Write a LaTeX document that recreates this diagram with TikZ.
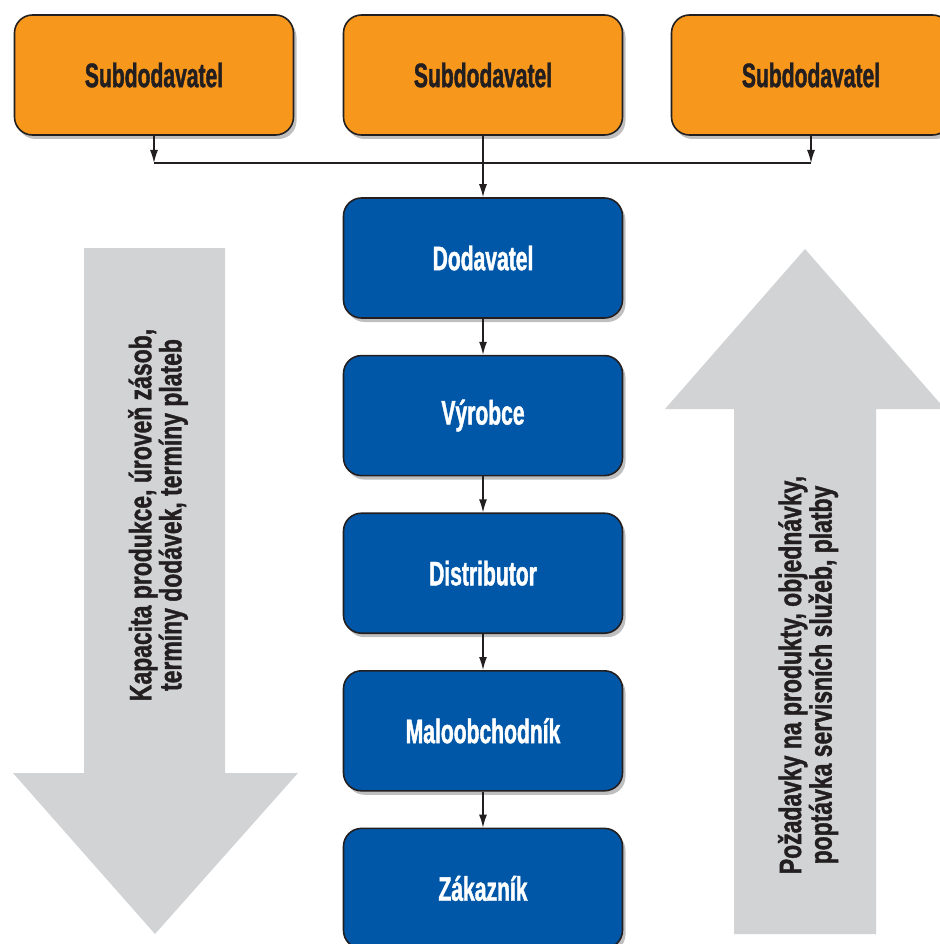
\documentclass[tikz,border=0pt]{standalone}
\usepackage{fontspec}
\newfontfamily\labelfont{Liberation Sans}[FakeStretch=0.62,FakeBold=1.2]
\newfontfamily\flowfont{Liberation Sans}[FakeStretch=0.74,FakeBold=1.2]
\usepackage{tikz}
\usetikzlibrary{positioning,shadows,arrows.meta}

\definecolor{suborange}{HTML}{F7981D}
\definecolor{chainblue}{HTML}{0057A8}
\definecolor{flowgray}{HTML}{D1D3D4}
\definecolor{inkdark}{HTML}{231F20}

\tikzset{
    box/.style={draw=inkdark, line width=1.6pt, rounded corners=18pt,
        minimum width=279pt, minimum height=120pt, inner sep=0pt,
        font=\labelfont\bfseries\fontsize{34}{38}\selectfont,
        drop shadow={shadow xshift=3pt, shadow yshift=-4pt, opacity=0.5}},
    subbox/.style={box, fill=suborange, text=inkdark},
    chainbox/.style={box, fill=chainblue, text=white},
    link/.style={draw=inkdark, line width=1.3pt, -{Latex[length=13pt,width=8pt]}},
    flowtext/.style={rotate=90, align=center, text=inkdark,
        font=\flowfont\bfseries\fontsize{31}{27}\selectfont}
}

\begin{document}
\begin{tikzpicture}[x=1pt,y=-1pt]

    \useasboundingbox (0,0) rectangle (939,944);

    % big gray arrows
    \fill[flowgray] (84,248) -- (225,248) -- (225,773) -- (298,773) -- (155,934)
        -- (13,773) -- (84,773) -- cycle;
    \fill[flowgray] (734,934) -- (876,934) -- (876,409) -- (945,409) -- (805,249)
        -- (665,409) -- (734,409) -- cycle;

    \node[flowtext] (down) at (158,515)
        {Kapacita produkce, úroveň zásob,\\ termíny dodávek, termíny plateb};
    \node[flowtext] (up) at (808,675)
        {Požadavky na produkty, objednávky,\\ poptávka servisních služeb, platby};

    % suppliers
    \node[subbox] (sub1) at (154,75) {Subdodavatel};
    \node[subbox] (sub2) at (483,75) {Subdodavatel};
    \node[subbox] (sub3) at (811,75) {Subdodavatel};

    % chain
    \node[chainbox] (dod) at (483,258) {Dodavatel};
    \node[chainbox, below=36pt of dod] (vyr) {Výrobce};
    \node[chainbox, below=36pt of vyr] (dis) {Distributor};
    \node[chainbox, below=36pt of dis] (mal) {Maloobchodník};
    \node[chainbox, below=36pt of mal] (zak) {Zákazník};

    \coordinate (bus1) at (154,163);
    \coordinate (bus3) at (811,163);

    \draw[link] (sub1) -- (bus1);
    \draw[link] (sub3) -- (bus3);
    \draw[draw=inkdark, line width=1.3pt] (bus1) -- (bus3);
    \draw[link] (sub2) -- (dod);
    \draw[link] (dod) -- (vyr);
    \draw[link] (vyr) -- (dis);
    \draw[link] (dis) -- (mal);
    \draw[link] (mal) -- (zak);

\end{tikzpicture}
\end{document}
